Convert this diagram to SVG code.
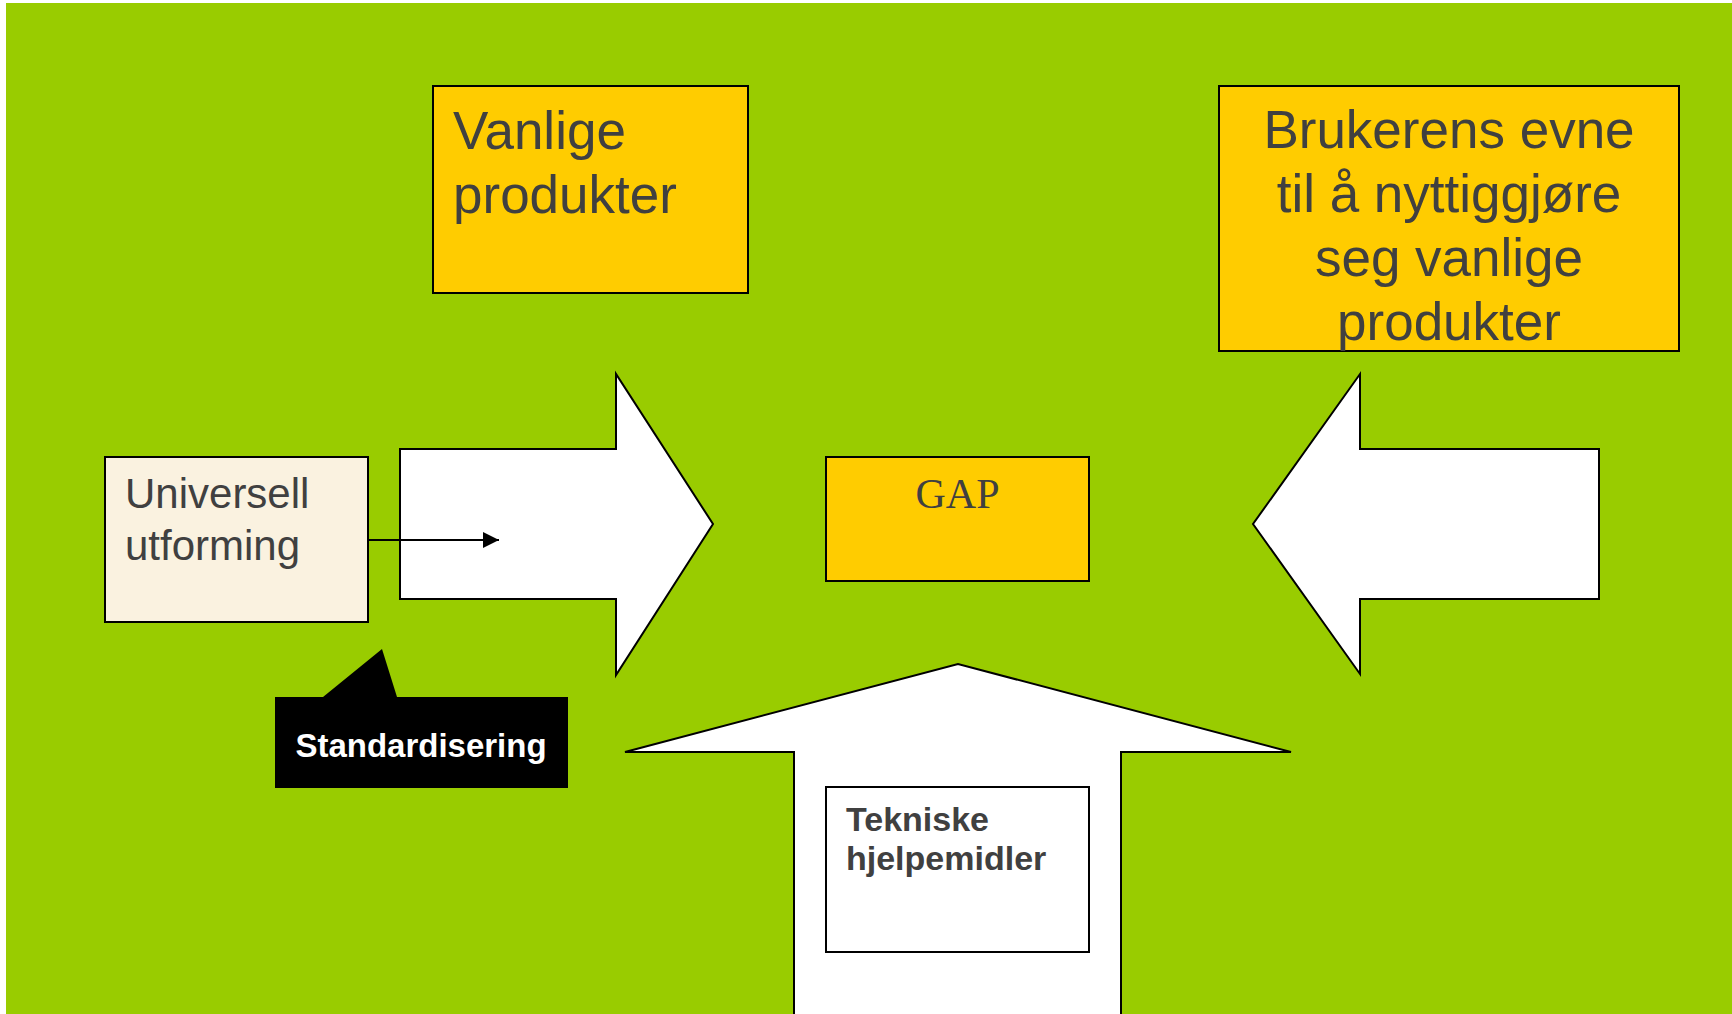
<svg xmlns="http://www.w3.org/2000/svg" width="1732" height="1014" viewBox="0 0 1732 1014">
<defs>
<style>
.bg{fill:#99CC00}
.ybox{fill:#FFCC00;stroke:#000;stroke-width:2}
.cbox{fill:#FAF2E0;stroke:#000;stroke-width:2}
.wbox{fill:#FFFFFF;stroke:#000;stroke-width:2}
.arrow{fill:#FFFFFF;stroke:#000;stroke-width:2;stroke-linejoin:miter}
.t{font-family:"Liberation Sans",Arial,sans-serif;fill:#404040}
.big{font-size:53px}
.mid{font-size:42px}
.bold{font-size:34px;font-weight:bold}
.gap{font-family:"Liberation Serif","Times New Roman",serif;font-size:42px;fill:#404040}
.std{font-family:"Liberation Sans",Arial,sans-serif;font-size:33px;font-weight:bold;fill:#FFFFFF}
.conn{stroke:#000;stroke-width:2;fill:none}
</style>
<marker id="ah2" viewBox="0 0 16 16" refX="16" refY="8" markerWidth="16" markerHeight="16" markerUnits="userSpaceOnUse" orient="auto">
<path d="M0,0 L16,8 L0,16 Z" fill="#000"/>
</marker>
</defs>
<rect x="6" y="3" width="1726" height="1011" class="bg"/>

<g id="arrow-right">
<polygon class="arrow" points="400,449 616,449 616,374 713,524 616,675 616,599 400,599"/>
</g>
<g id="arrow-left">
<polygon class="arrow" points="1599,449 1360,449 1360,374 1253,524 1360,674 1360,599 1599,599"/>
</g>
<g id="arrow-up">
<polygon class="arrow" points="794,1020 794,752 625,752 958,664 1291,752 1121,752 1121,1020"/>
</g>

<g id="vanlige">
<rect class="ybox" x="433" y="86" width="315" height="207"/>
<text class="t big" x="453" y="149">Vanlige</text>
<text class="t big" x="453" y="213">produkter</text>
</g>

<g id="brukerens">
<rect class="ybox" x="1219" y="86" width="460" height="265"/>
<text class="t big" x="1449" y="148" text-anchor="middle">Brukerens evne</text>
<text class="t big" x="1449" y="212" text-anchor="middle">til å nyttiggjøre</text>
<text class="t big" x="1449" y="276" text-anchor="middle">seg vanlige</text>
<text class="t big" x="1449" y="340" text-anchor="middle">produkter</text>
</g>

<g id="universell">
<rect class="cbox" x="105" y="457" width="263" height="165"/>
<text class="t mid" x="125" y="508">Universell</text>
<text class="t mid" x="125" y="560">utforming</text>
</g>

<g id="gap">
<rect class="ybox" x="826" y="457" width="263" height="124"/>
<text class="gap" x="957.5" y="508" text-anchor="middle">GAP</text>
</g>

<g id="tekniske">
<rect class="wbox" x="826" y="787" width="263" height="165"/>
<text class="t bold" x="846" y="831">Tekniske</text>
<text class="t bold" x="846" y="870">hjelpemidler</text>
</g>

<g id="standardisering">
<polygon points="275,697 323,697 382,649 397,697 568,697 568,788 275,788" fill="#000"/>
<text class="std" x="421" y="757" text-anchor="middle">Standardisering</text>
</g>

<g id="connectors">
<line class="conn" x1="368" y1="540" x2="499" y2="540" marker-end="url(#ah2)"/>
</g>
</svg>
